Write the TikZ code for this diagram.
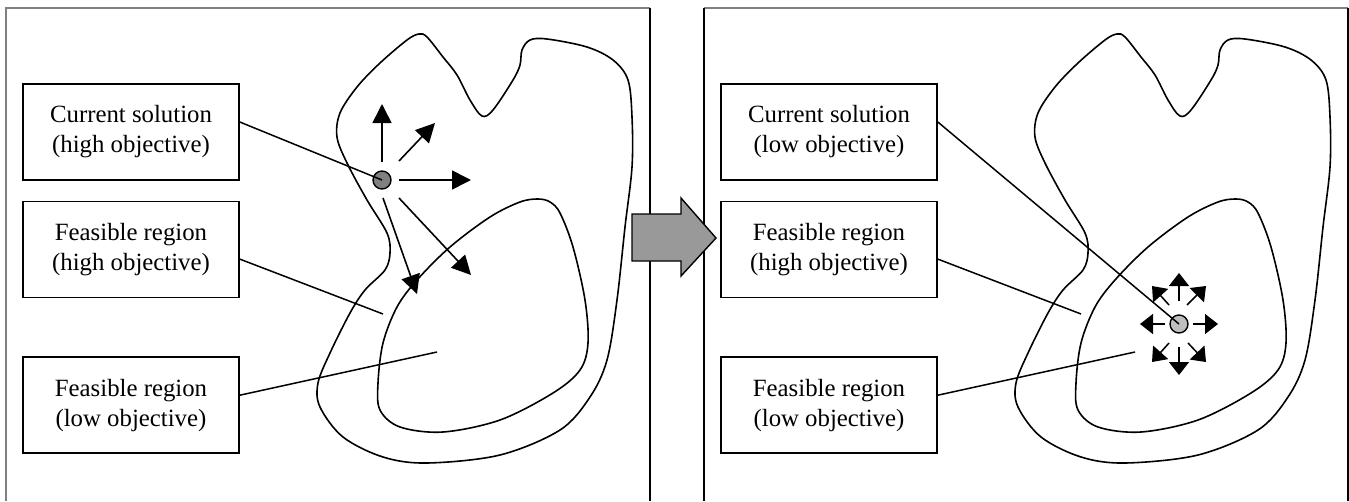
\documentclass[tikz,border=0pt]{standalone}
\usepackage{fontspec}
\setmainfont{Liberation Serif}
\usetikzlibrary{positioning,arrows.meta}

\begin{document}
\begin{tikzpicture}[x=1pt, y=-1pt,
    lbl/.style={draw, line width=1.6pt, minimum width=216pt, minimum height=96pt,
        inner sep=0pt, align=center, font=\fontsize{24.8}{30}\selectfont},
    lead/.style={line width=1.5pt},
    region/.style={line width=1.6pt},
    sol/.style={circle, draw, line width=1.4pt, minimum size=18pt, inner sep=0pt},
    move/.style={line width=1.6pt, -{Triangle[length=19pt, width=19pt]}},
    nudge/.style={line width=1.5pt, -{Triangle[length=13pt, width=20pt]}},
    panel/.style={line width=1.4pt}]
    \useasboundingbox (0,0) rectangle (1349,501);

    % Regions, same in both panels
    \foreach \dx in {0,698} {
        \begin{scope}[shift={(\dx,0)}]
            \draw[region] plot[smooth cycle, tension=0.55] coordinates {
                (419,34) (427,37) (443,57) (457,75) (470,100) (482,116) (493,110)
                (513,80) (520,65) (522,50) (530,40) (547,39) (587,47) (613,60)
                (628,80) (632,117) (632,167) (625,227) (617,300) (607,360)
                (590,397) (560,430) (500,455) (427,463) (383,457) (343,437)
                (320,407) (318,383) (330,353) (350,313) (365,290) (385,270)
                (390,253) (387,233) (367,200) (347,163) (337,137) (340,113)
                (357,87) (380,63) (407,40)};
            \draw[region] plot[smooth cycle, tension=0.55] coordinates {
                (538,199) (550,202) (560,213) (573,247) (585,300) (588,343)
                (580,370) (553,393) (500,420) (443,432) (400,427) (380,410)
                (378,383) (383,343) (397,307) (417,280) (450,247) (490,217)
                (520,202)};
        \end{scope}
    }

    % Left panel: high objective
    \draw[panel, gray] (650,8) -- (6,8) -- (6,501);
    \draw[panel] (650,8) -- (650,501);

    \node[lbl] (lcur) at (131,132) {Current solution\\(high objective)};
    \node[lbl, below=20pt of lcur] (lhigh) {Feasible region\\(high objective)};
    \node[lbl, below=58pt of lhigh] (llow) {Feasible region\\(low objective)};

    \node[sol, fill=black!50] (ldot) at (382,180) {};
    \foreach \sx/\sy/\tx/\ty in {0/-18/0/-76, 17/-19/53/-57, 17/0/89/0,
                                 17/18/89/95, 1/18/35/114}
        \draw[move] ([shift={(\sx,\sy)}]ldot.center) -- ([shift={(\tx,\ty)}]ldot.center);

    \coordinate (lhighpt) at (383,314);
    \coordinate (llowpt) at (437,352);
    \draw[lead] ([yshift=10pt]lcur.east) -- (ldot.center);
    \draw[lead] ([yshift=-9.5pt]lhigh.east) -- (lhighpt);
    \draw[lead] ([yshift=10pt]llow.east) -- (llowpt);

    % Right panel: low objective
    \draw[panel, gray] (704,8) -- (1348,8);
    \draw[panel] (704,8) -- (704,501);
    \draw[panel] (1348,8) -- (1348,501);

    \node[lbl] (rcur) at (829,132) {Current solution\\(low objective)};
    \node[lbl, below=20pt of rcur] (rhigh) {Feasible region\\(high objective)};
    \node[lbl, below=58pt of rhigh] (rlow) {Feasible region\\(low objective)};

    \node[sol, fill=black!25] (rdot) at (1179,324) {};
    \foreach \sx/\sy/\tx/\ty in {14/0/39/0, -14/0/-39/0, 0/-23/0/-51, 0/23/0/51,
                                 8/-19/27/-38, -10/-19/-27/-38, 9/19/27/38, -10/19/-27/38}
        \draw[nudge] ([shift={(\sx,\sy)}]rdot.center) -- ([shift={(\tx,\ty)}]rdot.center);

    \coordinate (rhighpt) at (1081,314);
    \coordinate (rlowpt) at (1135,352);
    \draw[lead] ([yshift=10pt]rcur.east) -- (rdot.center);
    \draw[lead] ([yshift=-9.5pt]rhigh.east) -- (rhighpt);
    \draw[lead] ([yshift=10pt]rlow.east) -- (rlowpt);

    % Big arrow between panels
    \draw[line width=1.4pt, fill=black!40] (632,214) -- (681,214) -- (681,198)
        -- (716,238) -- (681,276) -- (681,261) -- (632,261) -- cycle;
\end{tikzpicture}
\end{document}
